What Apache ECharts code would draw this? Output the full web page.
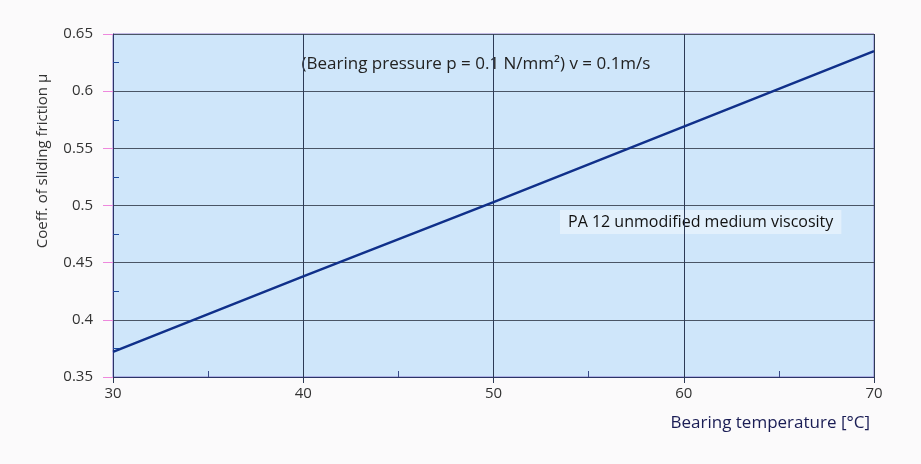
<!DOCTYPE html>
<html>
<head>
<meta charset="utf-8">
<script src="https://cdn.jsdelivr.net/npm/echarts@6/dist/echarts.min.js"></script>
<style>
  html, body { margin: 0; padding: 0; background: #fbfafb; }
  #main { width: 921px; height: 464px; }
</style>
</head>
<body>
<div id="main"></div>
<script>
// bearing temperature (°C) and coefficient of sliding friction
const temperature = [30, 40, 50, 60, 70];
const friction = [0.372, 0.438, 0.503, 0.569, 0.635];
const yTicks = [0.35, 0.4, 0.45, 0.5, 0.55, 0.6, 0.65];

const font = "'Open Sans', 'DejaVu Sans', sans-serif";
const chart = echarts.init(document.getElementById("main"));

const option = {
  animation: false,
  backgroundColor: "#fbfafb",
  grid: {
    left: 113,
    right: 47,
    top: 34,
    bottom: 87,
    show: true,
    backgroundColor: "#cfe6fa",
    borderColor: "#8a7fd0",
    borderWidth: 1,
  },
  xAxis: [
    {
      type: "value",
      min: 30,
      max: 70,
      interval: 10,
      axisLine: { show: true, lineStyle: { color: "#2b3566", width: 1 } },
      axisTick: { show: true, inside: false, length: 6, lineStyle: { color: "#2d3a55" } },
      axisLabel: { color: "#333", fontSize: 15, fontFamily: font, margin: 9 },
      splitLine: { show: true, lineStyle: { color: "#2d3a55", width: 1 } },
    },
    {
      // copy of the axis, only to draw the minor ticks on the inside
      type: "value",
      position: "bottom",
      min: 30,
      max: 70,
      interval: 10,
      axisLine: { show: false },
      axisTick: { show: false, inside: true },
      minorTick: { show: true, splitNumber: 2, length: 6, lineStyle: { color: "#3a4a8a" } },
      axisLabel: { show: false },
      splitLine: { show: false },
    },
  ],
  yAxis: [
    {
      type: "value",
      min: 0.35,
      max: 0.65,
      interval: 0.05,
      axisLine: { show: true, lineStyle: { color: "#2b3566", width: 1 } },
      axisTick: { show: true, inside: false, length: 10, lineStyle: { color: "#ee88dd" } },
      axisLabel: {
        color: "#333",
        fontSize: 15,
        fontFamily: font,
        margin: 20,
        formatter: (v) => {
          const t = yTicks.find((k) => Math.abs(k - v) < 1e-6);
          return t === undefined ? "" : String(+t.toFixed(2));
        },
      },
      splitLine: { show: true, lineStyle: { color: "#4a5565", width: 1 } },
    },
    {
      // copy of the axis, only to draw the minor ticks on the inside
      type: "value",
      position: "left",
      min: 0.35,
      max: 0.65,
      interval: 0.05,
      axisLine: { show: false },
      axisTick: { show: false, inside: true },
      minorTick: { show: true, splitNumber: 2, length: 6, lineStyle: { color: "#1e4aa0" } },
      axisLabel: { show: false },
      splitLine: { show: false },
    },
  ],
  graphic: [
    {
      type: "text",
      x: 43,
      y: 161,
      rotation: Math.PI / 2,
      style: {
        text: "Coeff. of sliding friction μ",
        fill: "#333",
        font: "15px " + font,
        align: "center",
        verticalAlign: "middle",
      },
    },
    {
      type: "text",
      x: 870,
      y: 423,
      style: {
        text: "Bearing temperature [°C]",
        fill: "#1a1d55",
        font: "17px " + font,
        align: "right",
        verticalAlign: "middle",
      },
    },
    {
      type: "text",
      x: 476,
      y: 64,
      style: {
        text: "(Bearing pressure p = 0.1 N/mm²) v = 0.1m/s",
        fill: "#222",
        font: "17px " + font,
        align: "center",
        verticalAlign: "middle",
      },
    },
    {
      type: "text",
      x: 560,
      y: 222,
      style: {
        text: "PA 12 unmodified medium viscosity",
        fill: "#111",
        font: "16px " + font,
        align: "left",
        verticalAlign: "middle",
        backgroundColor: "#e2f0fc",
        padding: [4, 8],
      },
    },
  ],
  series: [
    {
      type: "line",
      data: temperature.map((t, i) => [t, friction[i]]),
      symbol: "none",
      lineStyle: { color: "#10308a", width: 2.5 },
      z: 5,
    },
  ],
};

chart.setOption(option);
</script>
</body>
</html>
